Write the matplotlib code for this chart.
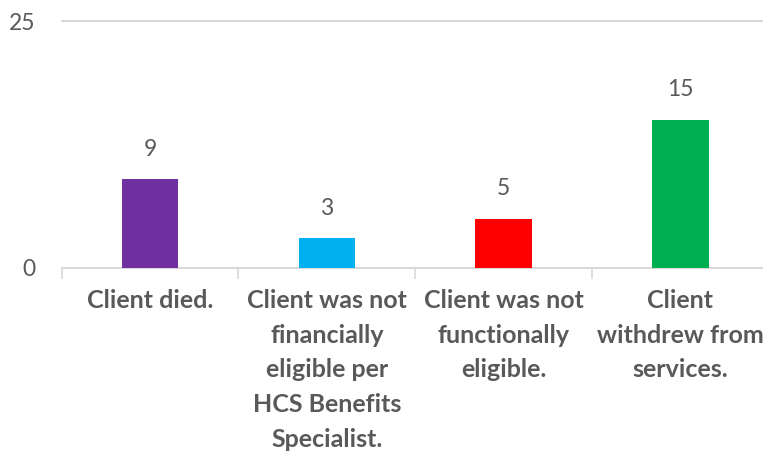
import numpy as np
import matplotlib.pyplot as plt

# Reasons for case closure
categories = [
    "Client died.",
    "Client was not\nfinancially\neligible per\nHCS Benefits\nSpecialist.",
    "Client was not\nfunctionally\neligible.",
    "Client\nwithdrew from\nservices.",
]
counts = [9, 3, 5, 15]
colors = ["#7030A0", "#00B0F0", "#FF0000", "#00B050"]
y_ticks = [0, 25]

text_gray = "#595959"
line_gray = "#D9D9D9"

plt.rcParams["font.family"] = ["Lato", "DejaVu Sans"]

fig = plt.figure(figsize=(7.63, 4.54), dpi=100)
ax = fig.add_axes([61.7 / 763, 186 / 454, 707 / 763, 247 / 454])

x = np.arange(len(categories))
bars = ax.bar(x, counts, width=0.32, color=colors, zorder=3)

# value labels above each bar
for xi, val in zip(x, counts):
    ax.annotate(str(val), (xi, val), xytext=(0, 14), textcoords="offset points",
                ha="center", va="bottom", fontsize=16.5, color=text_gray)

ax.set_xlim(-0.5, len(categories) - 0.5)
ax.set_ylim(0, 25)

ax.set_yticks(y_ticks)
ax.set_yticklabels([str(t) for t in y_ticks])
ax.tick_params(axis="y", length=0, pad=19, labelsize=16.5, labelcolor=text_gray)

ax.set_xticks(x)
ax.set_xticklabels(categories, fontsize=18, fontweight="bold", color=text_gray,
                   linespacing=1.62, va="top")
ax.tick_params(axis="x", which="major", length=0, pad=15)

# separator ticks between categories
ax.set_xticks(np.arange(len(categories) + 1) - 0.5, minor=True)
ax.tick_params(axis="x", which="minor", length=8, width=1.2, color=line_gray)

ax.axhline(25, color=line_gray, lw=1.5, zorder=1, clip_on=False)

for side in ["top", "right", "left"]:
    ax.spines[side].set_visible(False)
ax.spines["bottom"].set_color(line_gray)
ax.spines["bottom"].set_linewidth(1.5)

fig.savefig("out.png", dpi=100)
